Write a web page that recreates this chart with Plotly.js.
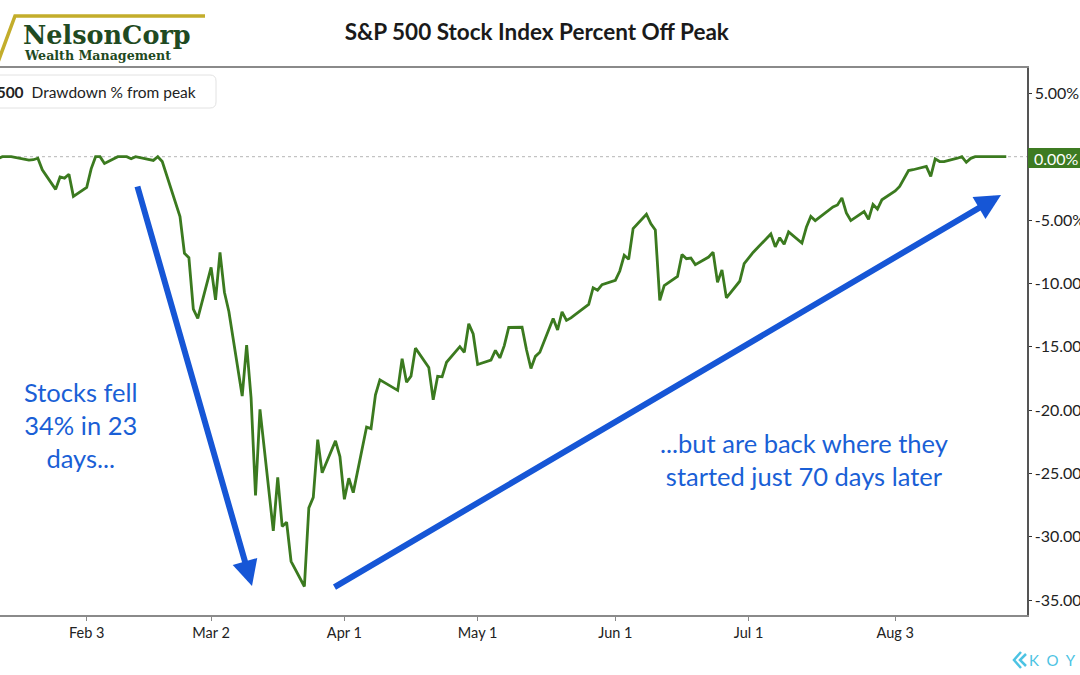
<!DOCTYPE html>
<html>
<head>
<meta charset="utf-8">
<script src="https://cdn.plot.ly/plotly-3.0.1.min.js"></script>
<style>html,body{margin:0;padding:0;background:#fff;}#chart{width:1080px;height:675px;}</style>
</head>
<body>
<div id="chart"></div>
<script>
// Trading dates shown (2020)
const dates = [
"2020-01-13","2020-01-14","2020-01-15","2020-01-16","2020-01-17",
"2020-01-21","2020-01-22","2020-01-23","2020-01-24",
"2020-01-27","2020-01-28","2020-01-29","2020-01-30","2020-01-31",
"2020-02-03","2020-02-04","2020-02-05","2020-02-06","2020-02-07",
"2020-02-10","2020-02-11","2020-02-12","2020-02-13","2020-02-14",
"2020-02-18","2020-02-19","2020-02-20","2020-02-21",
"2020-02-24","2020-02-25","2020-02-26","2020-02-27","2020-02-28",
"2020-03-02","2020-03-03","2020-03-04","2020-03-05","2020-03-06",
"2020-03-09","2020-03-10","2020-03-11","2020-03-12","2020-03-13",
"2020-03-16","2020-03-17","2020-03-18","2020-03-19","2020-03-20",
"2020-03-23","2020-03-24","2020-03-25","2020-03-26","2020-03-27",
"2020-03-30","2020-03-31","2020-04-01","2020-04-02","2020-04-03",
"2020-04-06","2020-04-07","2020-04-08","2020-04-09",
"2020-04-13","2020-04-14","2020-04-15","2020-04-16","2020-04-17",
"2020-04-20","2020-04-21","2020-04-22","2020-04-23","2020-04-24",
"2020-04-27","2020-04-28","2020-04-29","2020-04-30","2020-05-01",
"2020-05-04","2020-05-05","2020-05-06","2020-05-07","2020-05-08",
"2020-05-11","2020-05-12","2020-05-13","2020-05-14","2020-05-15",
"2020-05-18","2020-05-19","2020-05-20","2020-05-21","2020-05-22",
"2020-05-26","2020-05-27","2020-05-28","2020-05-29",
"2020-06-01","2020-06-02","2020-06-03","2020-06-04","2020-06-05",
"2020-06-08","2020-06-09","2020-06-10","2020-06-11","2020-06-12",
"2020-06-15","2020-06-16","2020-06-17","2020-06-18","2020-06-19",
"2020-06-22","2020-06-23","2020-06-24","2020-06-25","2020-06-26",
"2020-06-29","2020-06-30","2020-07-01","2020-07-02",
"2020-07-06","2020-07-07","2020-07-08","2020-07-09","2020-07-10",
"2020-07-13","2020-07-14","2020-07-15","2020-07-16","2020-07-17",
"2020-07-20","2020-07-21","2020-07-22","2020-07-23","2020-07-24",
"2020-07-27","2020-07-28","2020-07-29","2020-07-30","2020-07-31",
"2020-08-03","2020-08-04","2020-08-05","2020-08-06","2020-08-07",
"2020-08-10","2020-08-11","2020-08-12","2020-08-13","2020-08-14",
"2020-08-17","2020-08-18","2020-08-19","2020-08-20","2020-08-21",
"2020-08-24","2020-08-25","2020-08-26","2020-08-27","2020-08-28"
];

// Drawdown % from peak
const drawdown = [
0, -0.15, 0, 0, 0,
-0.27, -0.24, -0.12, -1.03,
-2.58, -1.60, -1.69, -1.38, -3.13,
-2.42, -0.96, 0, 0, -0.54,
0, 0, 0, -0.16, 0,
-0.29, 0, -0.38, -1.43,
-4.73, -7.62, -7.97, -12.03, -12.76,
-8.74, -11.30, -7.56, -10.70, -12.22,
-18.89, -14.88, -19.04, -26.74, -19.94,
-29.53, -25.31, -29.18, -28.85, -31.93,
-33.92, -27.72, -26.89, -22.33, -24.94,
-22.43, -23.67, -27.04, -25.38, -26.51,
-21.34, -21.46, -18.79, -17.61,
-18.44, -15.95, -17.80, -17.32, -15.11,
-16.63, -19.18, -17.33, -17.37, -16.22,
-14.99, -15.44, -13.19, -13.99, -16.40,
-16.05, -15.29, -15.88, -14.91, -13.48,
-13.46, -15.24, -16.72, -15.76, -15.43,
-12.77, -13.68, -12.24, -12.92, -12.72,
-11.65, -10.34, -10.53, -10.10,
-9.76, -9.02, -7.78, -8.09, -5.68,
-4.54, -5.29, -5.79, -11.34, -10.18,
-9.44, -7.72, -8.05, -8.00, -8.52,
-7.92, -7.53, -9.92, -8.93, -11.14,
-9.83, -8.44, -7.98, -7.56,
-6.10, -7.11, -6.39, -6.91, -5.94,
-6.82, -5.57, -4.71, -5.04, -4.77,
-3.97, -3.81, -3.25, -4.44, -5.04,
-4.33, -4.95, -3.77, -4.13, -3.40,
-2.70, -2.35, -1.72, -1.09, -1.03,
-0.76, -1.55, -0.17, -0.38, -0.39,
-0.12, 0, -0.44, -0.13, 0,
0, 0, 0, 0, 0
];

const xTickVals = ["2020-02-03","2020-03-02","2020-04-01","2020-05-01","2020-06-01","2020-07-01","2020-08-03"];
const xTickText = ["Feb 3","Mar 2","Apr 1","May 1","Jun 1","Jul 1","Aug 3"];
const yTickVals = [5, -5, -10, -15, -20, -25, -30, -35];
const yTickText = ["5.00%","-5.00%","-10.00%","-15.00%","-20.00%","-25.00%","-30.00%","-35.00%"];
const lastValueLabel = "0.00%";

const green = "#3b7a1f";
const blue = "#1656d6";

// helpers converting page pixels to paper coords (plot area: x 0..1027, y 68..615)
const PX = p => p / 1027;
const PY = p => (615 - p) / 547;

const trace = {
  x: dates, y: drawdown, type: "scatter", mode: "lines",
  line: {color: green, width: 2.8},
  hoverinfo: "skip"
};

function roundRectPath(x0, y0, x1, y1, r) {
  return "M" + PX(x0) + "," + PY(y0) +
    " L" + PX(x1 - r) + "," + PY(y0) +
    " Q" + PX(x1) + "," + PY(y0) + " " + PX(x1) + "," + PY(y0 + r) +
    " L" + PX(x1) + "," + PY(y1 - r) +
    " Q" + PX(x1) + "," + PY(y1) + " " + PX(x1 - r) + "," + PY(y1) +
    " L" + PX(x0) + "," + PY(y1) + " Z";
}

const shapes = [
  {type: "line", xref: "paper", yref: "y", x0: 0, x1: 1, y0: 0, y1: 0,
   line: {color: "#b5b5b5", width: 1, dash: "dot"}, layer: "below"},
  {type: "path", xref: "paper", yref: "paper", path: roundRectPath(-12, 75, 216, 108, 6),
   fillcolor: "#ffffff", line: {color: "#e2e2e2", width: 1}, layer: "above"},
  {type: "path", xref: "paper", yref: "paper",
   path: "M" + PX(205) + "," + PY(16) + " L" + PX(15) + "," + PY(16) + " L" + PX(-2) + "," + PY(62),
   line: {color: "#c3ad2b", width: 3.5}},
  {type: "rect", xref: "paper", yref: "paper", x0: PX(1028), x1: PX(1085), y0: PY(168), y1: PY(148),
   fillcolor: "#3d7b22", line: {width: 0}},
  {type: "path", xref: "paper", yref: "paper",
   path: "M" + PX(1021) + "," + PY(652) + " L" + PX(1014) + "," + PY(660) + " L" + PX(1021) + "," + PY(668),
   line: {color: "#4cc3e3", width: 2.5}},
  {type: "path", xref: "paper", yref: "paper",
   path: "M" + PX(1026) + "," + PY(654) + " L" + PX(1020) + "," + PY(660) + " L" + PX(1026) + "," + PY(666),
   line: {color: "#4cc3e3", width: 2.5}}
];

const nb = "\u00a0";
const annotations = [
  {xref: "paper", yref: "paper", x: PX(198), y: PY(92), xanchor: "right", yanchor: "middle",
   text: "<b>S&P 500</b>  Drawdown % from peak", showarrow: false,
   font: {family: "Lato", size: 15.5, color: "#222"}},
  {xref: "paper", yref: "paper", x: PX(21), y: PY(35), xanchor: "left", yanchor: "middle",
   text: "<b>NelsonCorp</b>", showarrow: false,
   font: {family: "DejaVu Serif", size: 25.5, color: "#1f4a22"}},
  {xref: "paper", yref: "paper", x: PX(22), y: PY(56), xanchor: "left", yanchor: "middle",
   text: "<b>Wealth Management</b>", showarrow: false,
   font: {family: "DejaVu Serif", size: 12.6, color: "#1f4a22"}},
  {xref: "paper", yref: "paper", x: PX(1032), y: PY(158), xanchor: "left", yanchor: "middle",
   text: lastValueLabel, showarrow: false,
   font: {family: "Lato", size: 16, color: "#ffffff"}},
  {xref: "paper", yref: "paper", x: PX(1027), y: PY(660), xanchor: "left", yanchor: "middle",
   text: ["K","O","Y","F","I","N"].join(nb + nb), showarrow: false,
   font: {family: "Lato", size: 15, color: "#4cc3e3"}},
  {xref: "paper", yref: "paper", x: PX(81), y: PY(425), xanchor: "center", yanchor: "middle",
   text: "Stocks fell<br>34% in 23<br>days...", align: "center", showarrow: false,
   font: {family: "Lato", size: 25.5, color: "#1a5fd6"}},
  {xref: "paper", yref: "paper", x: PX(804), y: PY(459), xanchor: "center", yanchor: "middle",
   text: "...but are back where they<br>started just 70 days later", align: "center", showarrow: false,
   font: {family: "Lato", size: 25.5, color: "#1a5fd6"}},
  {xref: "paper", yref: "paper", x: PX(252), y: PY(586), ax: 137 - 252, ay: 185 - 586,
   text: "", showarrow: true, arrowhead: 2, arrowsize: 0.85, arrowwidth: 6, arrowcolor: blue},
  {xref: "paper", yref: "paper", x: PX(1001), y: PY(195), ax: 333 - 1001, ay: 588 - 195,
   text: "", showarrow: true, arrowhead: 2, arrowsize: 0.85, arrowwidth: 6, arrowcolor: blue}
];

const layout = {
  width: 1080, height: 675,
  margin: {l: 0, r: 53, t: 68, b: 60, pad: 0},
  paper_bgcolor: "#ffffff", plot_bgcolor: "#ffffff",
  showlegend: false,
  font: {family: "Lato", color: "#222"},
  title: {text: "S&P 500 Stock Index Percent Off Peak", x: 0.497, xref: "container",
          y: 1 - 32 / 675, yref: "container", yanchor: "middle",
          font: {family: "Lato", size: 22.5, color: "#1a1a1a", weight: "bold"}},
  xaxis: {type: "date", range: ["2020-01-14 11:30", "2020-09-01 16:00"],
          tickvals: xTickVals, ticktext: xTickText,
          ticks: "outside", ticklen: 4, tickcolor: "#888", tickwidth: 1,
          showline: true, linecolor: "#8a8a8a", linewidth: 2, mirror: true,
          showgrid: false, zeroline: false,
          tickfont: {family: "Lato", size: 14.5, color: "#222"}},
  yaxis: {side: "right", range: [-36.17, 7.0],
          tickvals: yTickVals, ticktext: yTickText,
          ticks: "outside", ticklen: 3, tickcolor: "#333", tickwidth: 1,
          showline: true, linecolor: "#555", linewidth: 1.5,
          showgrid: false, zeroline: false,
          tickfont: {family: "Lato", size: 16, color: "#222"}},
  shapes: shapes,
  annotations: annotations
};

Plotly.newPlot("chart", [trace], layout, {displayModeBar: false, staticPlot: true});
</script>
</body>
</html>
